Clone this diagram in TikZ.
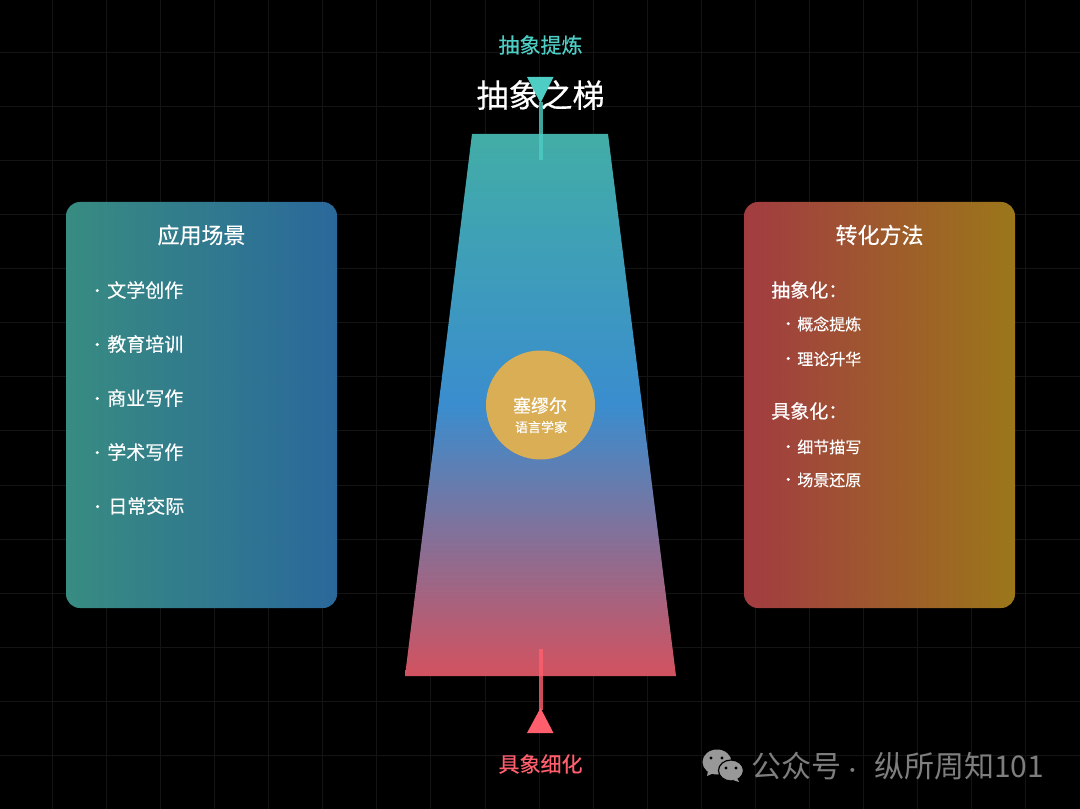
\documentclass[tikz,border=0pt]{standalone}
\usepackage{fontspec}
\setmainfont{Noto Sans CJK SC}
\newfontfamily\medf{Noto Sans CJK SC}[FakeBold=0.35]
\definecolor{bgc}{HTML}{000000}
\definecolor{gridc}{HTML}{141414}
\definecolor{teal}{HTML}{4ECDC4}
\definecolor{redc}{HTML}{FF5F6D}
\definecolor{trtop}{HTML}{42ADA6}
\definecolor{trmid}{HTML}{3A8DCE}
\definecolor{trbot}{HTML}{D2525F}
\definecolor{lpa}{HTML}{3A9186}
\definecolor{lpb}{HTML}{2C6CA0}
\definecolor{rpa}{HTML}{A83E44}
\definecolor{rpb}{HTML}{A17B1B}
\definecolor{gold}{HTML}{D9AE55}
\definecolor{wm}{HTML}{7E7E7E}
\newcommand{\fpt}[1]{\medf\fontsize{#1pt}{#1pt}\selectfont}
\newcommand{\bul}[2]{\llap{\raisebox{.06em}{\makebox[0pt]{\fontsize{11pt}{11pt}\selectfont •}}\hspace{#1}}#2}
\tikzset{
  x=0.75pt,y=-0.75pt,
  txt/.style={inner sep=0pt,text=white,font=\fpt{14.25}},
  sub/.style={inner sep=0pt,text=white,font=\fpt{12}},
  panel/.style={rectangle,rounded corners=10.5pt,minimum width=203.25pt,minimum height=304.5pt,inner sep=0pt,shading=axis,shading angle=90,opacity=.97},
  gridline/.style={gridc,line width=.75pt},
  conn/.style={line width=3pt,opacity=.8},
}
\begin{document}
\begin{tikzpicture}
\useasboundingbox[fill=bgc] (0,0) rectangle (1080,809);
\foreach \k in {0,...,18} {
  \draw[gridline] ({52.6+54.05*\k},0) -- ({52.6+54.05*\k},809);
}
\foreach \k in {0,...,13} {
  \draw[gridline] (0,{52.6+54.05*\k}) -- (1080,{52.6+54.05*\k});
}
% panels
\node[panel,left color=lpa,right color=lpb] (lp) at (201.5,405) {};
\node[panel,left color=rpa,right color=rpb] (rp) at (879.5,405) {};
% ladder
\coordinate (tl) at (472,134);
\coordinate (tr) at (608,134);
\coordinate (br) at (676,676);
\coordinate (bl) at (405,676);
\shade[top color=trtop,bottom color=trbot,middle color=trmid] (tl) -- (tr) -- (br) -- (bl) -- cycle;
% titles
\node[inner sep=0pt,text=white,font=\fpt{24}] (title) at (540.5,95) {抽象之梯};
\node[inner sep=0pt,text=teal,font=\fpt{15.75}] (up) at (540.5,45) {抽象提炼};
\node[inner sep=0pt,text=redc,font=\fpt{15.75}] (down) at (540.5,764) {具象细化};
% arrows
\coordinate (ua) at (540.5,160);
\coordinate (ub) at (540.5,102);
\coordinate (da) at (540.5,649);
\coordinate (db) at (540.5,710);
\draw[conn,teal] (ua) -- (ub);
\draw[conn,redc] (da) -- (db);
\fill[teal] (527,77) -- (553.5,77) -- (540.5,103) -- cycle;
\fill[redc] (527,733) -- (553.5,733) -- (540.5,708) -- cycle;
% centre
\node[circle,fill=gold,minimum size=81.75pt,inner sep=0pt] (c) at (540.5,405) {};
\node[inner sep=0pt,text=white,font=\fpt{13.5}] (c1) at (540,405.5) {塞缪尔};
\node[inner sep=0pt,text=white,font=\fpt{9.75}] (c2) at (541,427) {语言学家};
% left panel
\node[inner sep=0pt,text=white,font=\fpt{16.5}] (lt) at (201.5,235) {应用场景};
\node[txt,anchor=west] (l1) at (107,290) {\bul{7.5pt}{文学创作}};
\node[txt,anchor=west] (l2) at (107,344) {\bul{7.5pt}{教育培训}};
\node[txt,anchor=west] (l3) at (107,398) {\bul{7.5pt}{商业写作}};
\node[txt,anchor=west] (l4) at (107,452) {\bul{7.5pt}{学术写作}};
\node[txt,anchor=west] (l5) at (108,506) {\bul{8pt}{日常交际}};
% right panel
\node[inner sep=0pt,text=white,font=\fpt{16.5}] (rt) at (879.5,235) {转化方法};
\node[txt,anchor=west] (r1) at (771,290) {抽象化：};
\node[sub,anchor=west] (r2) at (797,324) {\bul{6.75pt}{概念提炼}};
\node[sub,anchor=west] (r3) at (797,359) {\bul{6.75pt}{理论升华}};
\node[txt,anchor=west] (r4) at (771,411) {具象化：};
\node[sub,anchor=west] (r5) at (797,447) {\bul{6.75pt}{细节描写}};
\node[sub,anchor=west] (r6) at (797,480) {\bul{6.75pt}{场景还原}};
% watermark
\fill[wm!80!white] (717,762) ellipse [x radius=14.5,y radius=12.5];
\fill[wm!80!white] (708,771) -- (707,776) -- (714,773) -- cycle;
\fill[wm!80!white,draw=black,line width=.9pt] (731,770.5) ellipse [x radius=12.5,y radius=10.5];
\fill[wm!80!white] (737,778) -- (739,782) -- (733,780) -- cycle;
\foreach \p in {(711,758),(722,758),(726,768),(736,768)} \fill[black] \p circle [radius=1.6];
\node[inner sep=0pt,anchor=west,text=wm,font=\fontsize{22.5pt}{22.5pt}\selectfont] (w1) at (751,766) {公众号\makebox[18pt]{\fontsize{14pt}{14pt}\selectfont ·}\hspace{6.75pt}纵所周知101};
\end{tikzpicture}
\end{document}
